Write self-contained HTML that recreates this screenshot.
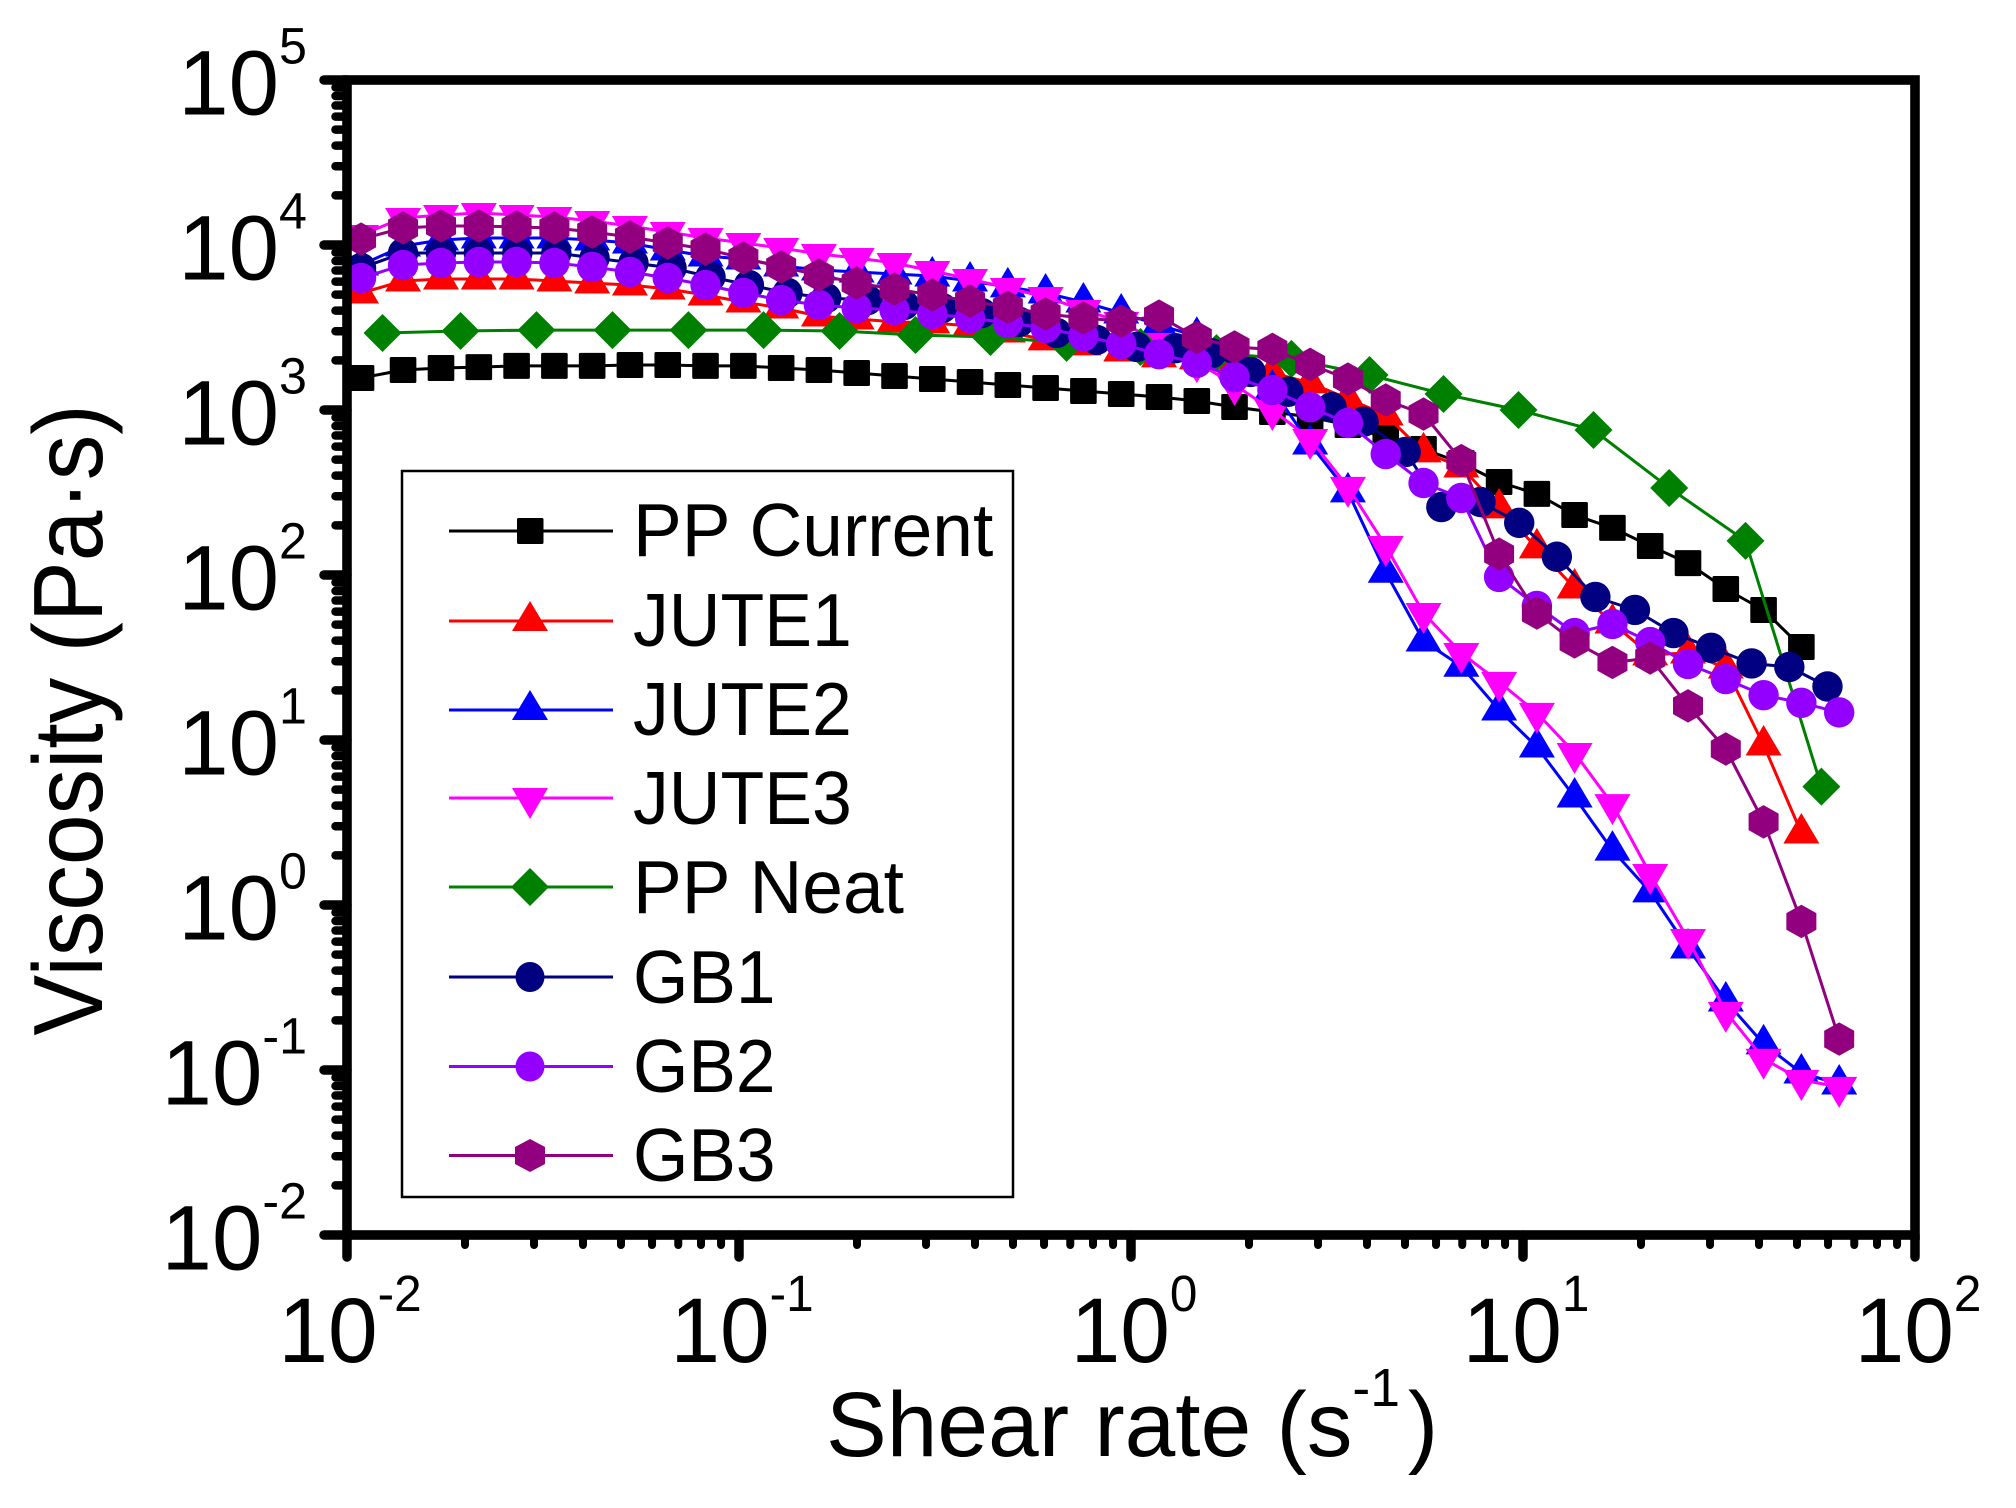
<!DOCTYPE html>
<html lang="en">
<head>
<meta charset="utf-8">
<title>Viscosity vs shear rate</title>
<style>
html,body{margin:0;padding:0;background:#fff;}
svg{display:block;font-family:"Liberation Sans",sans-serif;}
</style>
</head>
<body>
<svg id="chart" xmlns="http://www.w3.org/2000/svg" width="2016" height="1508" viewBox="0 0 2016 1508">
  <rect x="0" y="0" width="2016" height="1508" fill="#fff"/>
  <g id="series-layer"></g>
  <rect x="347" y="80" width="1568" height="1155" fill="none" stroke="#000" stroke-width="9.6"/>
  <g id="tick-layer"></g>
  <text transform="translate(102,720) rotate(-90) scale(0.93,1)" text-anchor="middle" font-size="98">Viscosity (Pa·s)</text>
  <text transform="translate(826,1456) scale(0.99,1)" x="0" y="0" font-size="92">Shear rate (s<tspan dy="-50" font-size="54">-1</tspan><tspan dy="50" dx="8">)</tspan></text>

  <g>
    <rect x="402" y="471" width="611" height="726" fill="#fff" stroke="#000" stroke-width="2.5"/>
    <g>
      <line x1="449" x2="613" y1="531" y2="531" stroke="#000" stroke-width="3"/>
      <rect x="517" y="518" width="26.5" height="26" rx="1.5" fill="#000"/>
      <text transform="translate(633,556) scale(0.975,1)" font-size="75">PP Current</text>
    </g>
    <g>
      <line x1="449" x2="613" y1="621" y2="621" stroke="#f00" stroke-width="3"/>
      <polygon points="530,601 548,631 512,631" fill="#f00"/>
      <text transform="translate(633,646) scale(0.955,1)" font-size="75">JUTE1</text>
    </g>
    <g>
      <line x1="449" x2="613" y1="710" y2="710" stroke="#00f" stroke-width="3"/>
      <polygon points="530,690 548,720 512,720" fill="#00f"/>
      <text transform="translate(633,735) scale(0.955,1)" font-size="75">JUTE2</text>
    </g>
    <g>
      <line x1="449" x2="613" y1="798" y2="798" stroke="#f0f" stroke-width="3"/>
      <polygon points="512,788 548,788 530,819" fill="#f0f"/>
      <text transform="translate(633,824) scale(0.955,1)" font-size="75">JUTE3</text>
    </g>
    <g>
      <line x1="449" x2="613" y1="887" y2="887" stroke="#008000" stroke-width="3"/>
      <polygon points="530,868 549,887 530,906 511,887" fill="#008000"/>
      <text transform="translate(633,913) scale(0.975,1)" font-size="75">PP Neat</text>
    </g>
    <g>
      <line x1="449" x2="613" y1="977" y2="977" stroke="#000080" stroke-width="3"/>
      <ellipse cx="530" cy="977" rx="14.5" ry="15" fill="#000080"/>
      <text transform="translate(633,1003) scale(0.95,1)" font-size="75">GB1</text>
    </g>
    <g>
      <line x1="449" x2="613" y1="1066.5" y2="1066.5" stroke="#9400ff" stroke-width="3"/>
      <ellipse cx="530" cy="1066.5" rx="14.5" ry="15" fill="#9400ff"/>
      <text transform="translate(633,1092) scale(0.95,1)" font-size="75">GB2</text>
    </g>
    <g>
      <line x1="449" x2="613" y1="1155.5" y2="1155.5" stroke="#92007f" stroke-width="3"/>
      <polygon points="530,1139 545,1147 545,1164 530,1172 515,1164 515,1147" fill="#92007f"/>
      <text transform="translate(633,1181) scale(0.95,1)" font-size="75">GB3</text>
    </g>
  </g>
</svg>
<script>
var xDomainExponents = [-2, 2];
var yDomainExponents = [-2, 5];
var xTickExponents = [-2, -1, 0, 1, 2];
var yTickExponents = [-2, -1, 0, 1, 2, 3, 4, 5];
var minorMultipliers = [2, 3, 4, 5, 6, 7, 8, 9];

var ratesCommon = [0.01086,0.0139,0.01737,0.02169,0.02708,0.03381,0.04221,0.05269,0.0658,0.08215,0.1026,0.1281,0.1599,0.1996,0.2493,0.3112,0.3885,0.4851,0.6056,0.7561,0.9441,1.179,1.472,1.837,2.294,2.864,3.576,4.465,5.575,6.96,8.69,10.85,13.54,16.91,21.11,26.36,32.91,41.09,51.3,64.06];
var ratesPPNeat = [0.01232,0.01948,0.03044,0.04756,0.0743,0.1155,0.1805,0.282,0.438,0.685,1.057,1.652,2.566,4.06,6.27,9.74,15.13,23.6,36.95,57.7];
var ratesGB1 = [0.01086,0.0139,0.01737,0.02169,0.0272,0.0342,0.0428,0.0538,0.0673,0.0846,0.106,0.133,0.167,0.213,0.264,0.330,0.416,0.519,0.646,0.817,1.033,1.298,1.604,2.02,2.52,3.25,3.92,5.02,6.19,7.79,9.78,12.2,15.3,19.3,24.2,30.2,38.3,47.8,59.8];

var valuesPPCurrent = [1563,1747,1796,1820,1850,1850,1850,1874,1874,1850,1850,1796,1747,1676,1607,1541,1478,1417,1359,1304,1250,1199,1134,1043,973,907,811,676,580,477,366,310,231,193,150,118,82.2,61.4,36.6];
var valuesJute1 = [5120,6050,6220,6220,6220,6050,5880,5720,5410,4980,4510,4150,3710,3560,3420,3370,3230,2970,2660,2480,2280,2100,2040,1900,1680,1460,1170,933,557,451,255,146,83.4,51.2,32.8,33.7,27.3,9.33,2.73];
var valuesJute2 = [7560,9860,10720,11020,11020,11020,10720,10280,9330,8580,8220,7460,7060,6860,6670,6490,6050,5570,5120,4510,3870,3275,2800,2250,1340,622,319,104,39.8,28.0,15.2,9.07,4.51,2.15,1.20,0.549,0.262,0.144,0.0959,0.0822];
var valuesJute3 = [11500,14570,15200,15630,15200,14780,13980,13040,11990,11020,10280,9590,8820,8340,7780,6960,6220,5490,4840,4040,3420,2550,1950,1420,1000,667,342,150,58.8,33.7,22.5,14.6,8.34,4.09,1.54,0.622,0.225,0.117,0.087,0.079];
var valuesPPNeat = [2930,3010,3050,3050,3050,3050,3010,2850,2770,2550,2410,2210,2040,1630,1250,1000,756,337,161,5.22];
var valuesGB1 = [7250,8940,8940,8940,8940,8940,8340,7780,7250,6400,5720,5120,4770,4640,4330,4150,3870,3420,2930,2660,2410,2370,2210,1700,1290,1040,850,557,258,277,207,129,73.6,61.4,44.5,36.2,29.1,27.7,21.1];
var valuesGB2 = [6310,7560,7780,7890,7890,7780,7360,6860,6310,5720,5120,4640,4330,4150,4040,3820,3610,3370,3140,2800,2510,2180,1930,1580,1320,1040,834,541,361,293,97.3,64.9,44.5,50.5,39.2,28.9,23.4,18.7,16.8,14.7];
var valuesGB3 = [10870,12680,13040,13040,12860,12680,11990,11180,10280,9450,8340,7360,6580,5880,5410,4980,4570,4200,3820,3610,3460,3710,2750,2410,2330,1890,1540,1150,945,494,134,58.8,39.3,29.5,31.4,16.1,8.82,3.19,0.795,0.154];

var NS = 'http://www.w3.org/2000/svg';
var plotLeft = 347, plotRight = 1915, plotTop = 80, plotBottom = 1235;

function xScale(v) {
  var t = (Math.log10(v) - xDomainExponents[0]) / (xDomainExponents[1] - xDomainExponents[0]);
  return plotLeft + t * (plotRight - plotLeft);
}
function yScale(v) {
  var t = (Math.log10(v) - yDomainExponents[0]) / (yDomainExponents[1] - yDomainExponents[0]);
  return plotBottom - t * (plotBottom - plotTop);
}
function make(tag, attrs) {
  var el = document.createElementNS(NS, tag);
  for (var k in attrs) el.setAttribute(k, attrs[k]);
  return el;
}

var markerDrawers = {
  square: function (x, y, c) { return make('rect', {x: x - 13.3, y: y - 13, width: 26.6, height: 26, rx: 1.5, fill: c}); },
  up: function (x, y, c) { return make('polygon', {points: x + ',' + (y - 20) + ' ' + (x + 18) + ',' + (y + 10.5) + ' ' + (x - 18) + ',' + (y + 10.5), fill: c}); },
  down: function (x, y, c) { return make('polygon', {points: (x - 18) + ',' + (y - 10) + ' ' + (x + 18) + ',' + (y - 10) + ' ' + x + ',' + (y + 21), fill: c}); },
  diamond: function (x, y, c) { return make('polygon', {points: x + ',' + (y - 19) + ' ' + (x + 19) + ',' + y + ' ' + x + ',' + (y + 19) + ' ' + (x - 19) + ',' + y, fill: c}); },
  circle: function (x, y, c) { return make('circle', {cx: x, cy: y, r: 15.2, fill: c}); },
  hexagon: function (x, y, c) { return make('polygon', {points: x + ',' + (y - 16.7) + ' ' + (x + 15) + ',' + (y - 8.3) + ' ' + (x + 15) + ',' + (y + 8.3) + ' ' + x + ',' + (y + 16.7) + ' ' + (x - 15) + ',' + (y + 8.3) + ' ' + (x - 15) + ',' + (y - 8.3), fill: c}); }
};

function drawSeries(name, rates, values, color, marker) {
  var layer = document.getElementById('series-layer');
  var group = make('g', {});
  
  
  var pts = [];
  for (var i = 0; i < values.length; i++) pts.push(xScale(rates[i]).toFixed(1) + ',' + yScale(values[i]).toFixed(1));
  var line = make('polyline', {points: pts.join(' '), fill: 'none', stroke: color, 'stroke-width': 3, 'stroke-linejoin': 'round'});
  
  
  group.appendChild(line);
  for (var j = 0; j < values.length; j++) {
    var m = markerDrawers[marker](xScale(rates[j]), yScale(values[j]), color);
    
    
    group.appendChild(m);
  }
  layer.appendChild(group);
}

drawSeries('pp-current', ratesCommon, valuesPPCurrent, '#000000', 'square');
drawSeries('jute1', ratesCommon, valuesJute1, '#ff0000', 'up');
drawSeries('jute2', ratesCommon, valuesJute2, '#0000ff', 'up');
drawSeries('jute3', ratesCommon, valuesJute3, '#ff00ff', 'down');
drawSeries('pp-neat', ratesPPNeat, valuesPPNeat, '#008000', 'diamond');
drawSeries('gb1', ratesGB1, valuesGB1, '#000080', 'circle');
drawSeries('gb2', ratesCommon, valuesGB2, '#9400ff', 'circle');
drawSeries('gb3', ratesCommon, valuesGB3, '#92007f', 'hexagon');

function addTickLine(x1, y1, x2, y2, width, name) {
  var t = make('line', {x1: x1, y1: y1, x2: x2, y2: y2, stroke: '#000', 'stroke-width': width, 'stroke-linecap': 'round'});
  
  
  document.getElementById('tick-layer').appendChild(t);
}
function addPowerLabel(x, y, exponent, anchor, scaleX, name) {
  var t = make('text', {transform: 'translate(' + x + ',' + y + ') scale(' + scaleX + ',1)', 'text-anchor': anchor, 'font-size': 92});
  
  
  var base = make('tspan', {});
  base.textContent = '10';
  var sup = make('tspan', {dy: -51, 'font-size': 51});
  sup.textContent = String(exponent);
  t.appendChild(base);
  t.appendChild(sup);
  document.getElementById('tick-layer').appendChild(t);
}

xTickExponents.forEach(function (e) {
  var x = xScale(Math.pow(10, e));
  addTickLine(x, plotBottom, x, 1257, 9.5, 'x-major-tick');
  addPowerLabel(x + 3, 1362, e, 'middle', 0.97, 'x-tick-label');
  if (e < xDomainExponents[1]) minorMultipliers.forEach(function (m) {
    var mx = xScale(m * Math.pow(10, e));
    addTickLine(mx, plotBottom, mx, 1245, 8, 'x-minor-tick');
  });
});
yTickExponents.forEach(function (e) {
  var y = yScale(Math.pow(10, e));
  addTickLine(plotLeft, y, 324, y, 9.5, 'y-major-tick');
  addPowerLabel(307, y + 34.5, e, 'end', 0.985, 'y-tick-label');
  if (e < yDomainExponents[1]) minorMultipliers.forEach(function (m) {
    var my = yScale(m * Math.pow(10, e));
    addTickLine(plotLeft, my, 335.5, my, 8.5, 'y-minor-tick');
  });
});
</script>
</body>
</html>
